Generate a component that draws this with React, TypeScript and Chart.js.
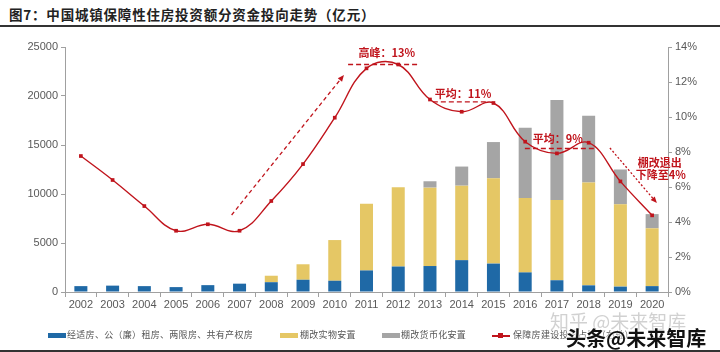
import React, { useEffect, useRef } from "react";
import { Chart, registerables } from "chart.js";

Chart.register(...registerables);

const years = ["2002","2003","2004","2005","2006","2007","2008","2009","2010","2011","2012","2013","2014","2015","2016","2017","2018","2019","2020"];
const affordable = [600, 650, 600, 500, 700, 850, 1000, 1250, 1150, 2200, 2600, 2650, 3250, 2900, 2000, 1200, 680, 550, 600];
const shantyInKind = [0, 0, 0, 0, 0, 0, 660, 1580, 4150, 6800, 8100, 8000, 7600, 8700, 7600, 8200, 10500, 8400, 5900];
const shantyMonetary = [0, 0, 0, 0, 0, 0, 0, 0, 0, 0, 0, 650, 1950, 3700, 7150, 10200, 6800, 3550, 1450];
const sharePct = [7.77, 6.4, 4.91, 3.5, 3.87, 3.5, 5.2, 7.31, 9.96, 12.78, 13.0, 11.0, 10.3, 10.8, 8.59, 7.92, 8.53, 6.32, 4.38];
const leftTicks = [0, 5000, 10000, 15000, 20000, 25000];
const rightTicks = [0, 2, 4, 6, 8, 10, 12, 14];

const seriesNames = ["经适房、公（廉）租房、两限房、共有产权房", "棚改实物安置", "棚改货币化安置", "保障房建设投资占比（右轴）"];
const titleText = "图7：中国城镇保障性住房投资额分资金投向走势（亿元）";

const RED = "#C0141C";
const BLUE = "#1F69A6";
const YELLOW = "#E5C765";
const GRAY = "#A5A5A5";

// annotations in data units (category index, percent)
const hLines = [
  { x1: 8.42, x2: 10.68, y: 13.0, dash: [5, 3] },
  { x1: 11.09, x2: 12.83, y: 10.87, dash: [5, 3] },
  { x1: 13.99, x2: 16.26, y: 8.2, dash: [5, 3] },
];
const arrows = [
  { x1: 4.75, y1: 4.4, x2: 8.29, y2: 12.4, dash: [4, 3] },
  { x1: 16.67, y1: 8.23, x2: 18.15, y2: 5.08, dash: [2, 2] },
];
const labels = [
  { x: 9.64, y: 13.67, text: "高峰：13%" },
  { x: 12.04, y: 11.31, text: "平均：11%" },
  { x: 15.03, y: 8.74, text: "平均：9%" },
  { x: 18.24, y: 7.4, text: "棚改退出" },
  { x: 18.27, y: 6.72, text: "下降至4%" },
];

const annotationPlugin = {
  id: "notes",
  afterDatasetsDraw(chart: any) {
    const ctx = chart.ctx;
    const xs = chart.scales.x;
    const ys = chart.scales.y1;
    const px = (v: number) => xs.getPixelForValue(v);
    const py = (v: number) => ys.getPixelForValue(v);
    ctx.save();
    ctx.strokeStyle = RED;
    ctx.fillStyle = RED;
    ctx.lineWidth = 1.3;
    hLines.forEach((l) => {
      ctx.setLineDash(l.dash);
      ctx.beginPath();
      ctx.moveTo(px(l.x1), py(l.y));
      ctx.lineTo(px(l.x2), py(l.y));
      ctx.stroke();
    });
    arrows.forEach((a) => {
      const x1 = px(a.x1), y1 = py(a.y1), x2 = px(a.x2), y2 = py(a.y2);
      const ang = Math.atan2(y2 - y1, x2 - x1);
      const hl = 7;
      ctx.setLineDash(a.dash);
      ctx.beginPath();
      ctx.moveTo(x1, y1);
      ctx.lineTo(x2 - Math.cos(ang) * hl * 0.8, y2 - Math.sin(ang) * hl * 0.8);
      ctx.stroke();
      ctx.setLineDash([]);
      ctx.beginPath();
      ctx.moveTo(x2, y2);
      ctx.lineTo(x2 - hl * Math.cos(ang - 0.4), y2 - hl * Math.sin(ang - 0.4));
      ctx.lineTo(x2 - hl * Math.cos(ang + 0.4), y2 - hl * Math.sin(ang + 0.4));
      ctx.closePath();
      ctx.fill();
    });
    ctx.setLineDash([]);
    ctx.font = "bold 11px 'Noto Sans CJK SC', sans-serif";
    ctx.textAlign = "center";
    ctx.textBaseline = "middle";
    labels.forEach((t) => {
      ctx.fillText(t.text, px(t.x), py(t.y));
    });
    ctx.restore();
  },
};

export default function App() {
  const ref = useRef<HTMLCanvasElement | null>(null);
  useEffect(() => {
    if (!ref.current) return;
    const tickFont = { family: "'Liberation Sans', Arial, sans-serif", size: 11 };
    const chart = new Chart(ref.current, {
      type: "bar",
      data: {
        labels: years,
        datasets: [
          {
            type: "line",
            label: seriesNames[3],
            data: sharePct,
            yAxisID: "y1",
            borderColor: RED,
            backgroundColor: RED,
            borderWidth: 1.4,
            tension: 0.4,
            pointStyle: "rect",
            pointRadius: 2.6,
            pointBorderWidth: 0,
            pointBackgroundColor: RED,
            order: 0,
          } as any,
          { label: seriesNames[0], data: affordable, backgroundColor: BLUE, yAxisID: "y", order: 1, categoryPercentage: 1, barPercentage: 0.41 },
          { label: seriesNames[1], data: shantyInKind, backgroundColor: YELLOW, yAxisID: "y", order: 1, categoryPercentage: 1, barPercentage: 0.41 },
          { label: seriesNames[2], data: shantyMonetary, backgroundColor: GRAY, yAxisID: "y", order: 1, categoryPercentage: 1, barPercentage: 0.41 },
        ],
      },
      options: {
        responsive: false,
        animation: false,
        layout: { padding: { top: 47, bottom: 38, left: 0, right: 0 } },
        plugins: { legend: { display: false }, tooltip: { enabled: false }, title: { display: false } },
        scales: {
          x: {
            stacked: true,
            offset: true,
            grid: { display: true, drawOnChartArea: false, drawTicks: true, tickLength: 5, color: "#A0A0A0", offset: true },
            border: { display: true, color: "#A0A0A0" },
            ticks: { color: "#595959", font: tickFont, padding: 1, maxRotation: 0, autoSkip: false },
            afterFit: (s: any) => { s.height = 22; },
          },
          y: {
            position: "left",
            stacked: true,
            min: 0,
            max: 25000,
            afterBuildTicks: (s: any) => { s.ticks = leftTicks.map((v) => ({ value: v })); },
            grid: { display: true, drawOnChartArea: false, drawTicks: true, tickLength: 4, color: "#A0A0A0" },
            border: { display: true, color: "#A0A0A0" },
            ticks: { color: "#595959", font: tickFont, padding: 3, callback: (v: any) => String(v) },
            afterFit: (s: any) => { s.width = 65; },
          },
          y1: {
            position: "right",
            min: 0,
            max: 14,
            afterBuildTicks: (s: any) => { s.ticks = rightTicks.map((v) => ({ value: v })); },
            grid: { display: true, drawOnChartArea: false, drawTicks: true, tickLength: 4, color: "#A0A0A0" },
            border: { display: true, color: "#A0A0A0" },
            ticks: { color: "#595959", font: tickFont, padding: 3, callback: (v: any) => v + "%" },
            afterFit: (s: any) => { s.width = 52; },
          },
        },
      },
      plugins: [annotationPlugin],
    } as any);
    return () => chart.destroy();
  }, []);

  const legendText: React.CSSProperties = {
    position: "absolute",
    top: 329,
    fontSize: 9,
    lineHeight: "12px",
    color: "#555",
    fontFamily: "'Noto Sans CJK SC', sans-serif",
    letterSpacing: "0.3px",
    whiteSpace: "nowrap",
  };
  const swatch = (left: number, color: string): React.CSSProperties => ({
    position: "absolute", left, top: 333, width: 18, height: 5, background: color,
  });

  return (
    <div style={{ position: "fixed", left: 0, top: 0, width: 720, height: 352, background: "#fff", overflow: "hidden" }}>
      <div style={{ position: "absolute", left: 9, top: 5, fontSize: 13.5, lineHeight: "18px", fontWeight: "bold", color: "#222", fontFamily: "'Noto Sans CJK SC', sans-serif", letterSpacing: "0.8px", whiteSpace: "nowrap" }}>
        {titleText}
      </div>
      <div style={{ position: "absolute", left: 0, top: 25, width: 720, height: 1.5, background: "#333" }} />
      <canvas ref={ref} width={720} height={352} style={{ position: "absolute", left: 0, top: 0, width: 720, height: 352 }} />
      <div style={swatch(48, BLUE)} />
      <div style={{ ...legendText, left: 67 }}>{seriesNames[0]}</div>
      <div style={swatch(280, YELLOW)} />
      <div style={{ ...legendText, left: 300 }}>{seriesNames[1]}</div>
      <div style={swatch(382, GRAY)} />
      <div style={{ ...legendText, left: 401 }}>{seriesNames[2]}</div>
      <div style={{ position: "absolute", left: 492, top: 335, width: 18, height: 1.5, background: RED }} />
      <div style={{ position: "absolute", left: 498, top: 333, width: 5, height: 5, background: RED }} />
      <div style={{ ...legendText, left: 513 }}>{seriesNames[3]}</div>
      <div style={{ position: "absolute", left: 550, top: 309, fontSize: 19, lineHeight: "24px", color: "rgba(190,190,190,0.7)", fontFamily: "'Noto Sans CJK SC', sans-serif", whiteSpace: "nowrap" }}>
        知乎 @未来智库
      </div>
      <div style={{ position: "absolute", left: 566, top: 325, fontSize: 20, lineHeight: "26px", color: "#111", fontWeight: "bold", fontFamily: "'Noto Sans CJK SC', sans-serif", whiteSpace: "nowrap", textShadow: "0 0 2px #fff, 0 0 2px #fff, 0 0 3px #fff" }}>
        头条@未来智库
      </div>
      <div style={{ position: "absolute", left: 0, top: 350, width: 720, height: 1.5, background: "#333" }} />
    </div>
  );
}
